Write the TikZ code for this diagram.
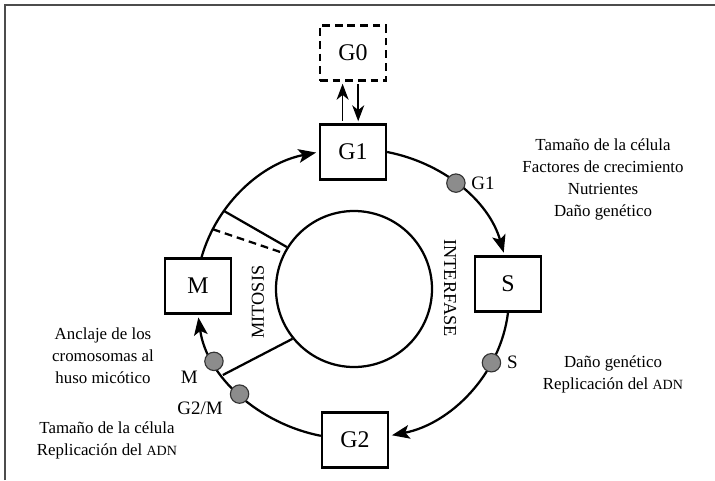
\documentclass[tikz,border=0pt]{standalone}
\usepackage{fontspec}
\setmainfont{Liberation Serif}
\usetikzlibrary{arrows.meta}

\newcommand{\sigla}[1]{{\fontsize{10}{12}\selectfont #1}}

\begin{document}
\begin{tikzpicture}[
  fase/.style={draw, line width=1.6pt, minimum width=1.65cm, minimum height=1.375cm,
    fill=white, font=\fontsize{17}{20}\selectfont},
  flecha/.style={line width=1.6pt, -{Stealth[length=4.4mm,width=3.4mm,inset=1mm]},
    shorten >=2pt, looseness=0.93},
  flechita/.style={line width=1.1pt, -{Stealth[length=4mm,width=3mm,inset=1.2mm]},
    shorten <=2pt, shorten >=1.5pt},
  punto/.style={circle, draw=black!80, fill=black!45, line width=0.8pt,
    minimum size=0.46cm, inner sep=0pt},
  etiq/.style={font=\fontsize{13.5}{16}\selectfont},
  texto/.style={align=center, font=\fontsize{12}{15.6}\selectfont},
  rotulo/.style={font=\fontsize{13}{15}\selectfont}
]
\useasboundingbox (-8.825,-4.65) rectangle (9.05,7.35);
% marco
\draw[black!70, line width=1pt] (-8.7,-4.65) -- (-8.7,7.225) -- (9.05,7.225);

% fases
\node[fase] (g1) at (0,3.55) {G1};
\node[fase] (s) at (3.875,0.25) {S};
\node[fase] (g2) at (0.05,-3.65) {G2};
\node[fase] (m) at (-3.875,0.2) {M};
\node[fase, dash pattern=on 5.5pt off 3.5pt] (g0) at (0,6.025) {G0};

% circulo central
\node[circle, draw, line width=1.6pt, minimum size=3.9cm] (centro) at (0.025,0.125) {};

% ciclo
\draw[flecha] (m.83) to[out=74,in=191]
  coordinate[pos=0.18] (corte2) coordinate[pos=0.31] (corte1) (g1.west);
\draw[flecha] (g1.east) to[out=-11,in=106]
  node[punto, pos=0.46, label={[etiq]right:G1}] (pg1) {} (s.97);
\draw[flecha] (s.south) to[out=-97,in=11]
  node[punto, pos=0.29, label={[etiq]right:S}] (ps) {} (g2.7);
\draw[flecha] (g2.173) to[out=169,in=-82]
  node[punto, pos=0.5, label={[etiq, label distance=1pt]192:G2/M}] (pg2m) {}
  coordinate[pos=0.64] (corte3)
  node[punto, pos=0.73, label={[etiq, label distance=1pt]203:M}] (pm) {} (m.south);

% G0 <-> G1
\draw[flechita] ([xshift=-0.26cm]g1.north) -- ([xshift=-0.26cm]g0.south);
\draw[flechita] ([xshift=0.13cm]g0.south) -- ([xshift=0.13cm]g1.north);

% separaciones
\draw[line width=1.6pt] (corte1) -- (centro.148);
\draw[line width=1.6pt, dash pattern=on 5.5pt off 3.5pt] (corte2) -- (centro.153);
\draw[line width=1.6pt] (corte3) -- (centro.219);

\node[rotulo, rotate=90] (mit) at (-2.375,-0.2) {MITOSIS};
\node[rotulo, rotate=-90] (int) at (2.425,0.15) {INTERFASE};

% puntos de control
\node[texto] (req1) at (6.25,2.86) {Tamaño de la célula\\Factores de crecimiento\\Nutrientes\\Daño genético};
\node[texto] (req2) at (6.5,-2.0) {Daño genético\\Replicación del \sigla{ADN}};
\node[texto] (req3) at (-6.25,-1.55) {Anclaje de los\\cromosomas al\\huso micótico};
\node[texto] (req4) at (-6.15,-3.66) {Tamaño de la célula\\Replicación del \sigla{ADN}};
\end{tikzpicture}
\end{document}
